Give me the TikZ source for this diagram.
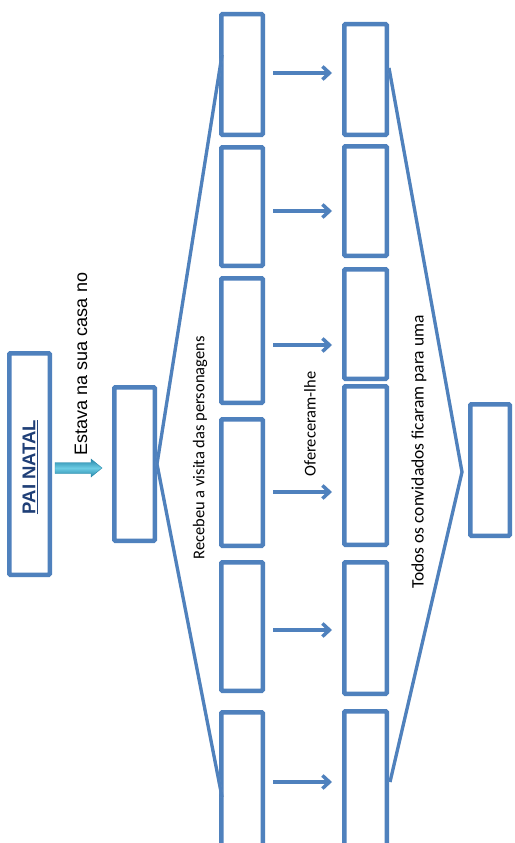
\documentclass[tikz,border=0pt]{standalone}
\usepackage{fontspec}
\setmainfont{Carlito}
\newfontfamily\arialfont{Liberation Sans}
\usetikzlibrary{arrows.meta,calc}
\definecolor{boxblue}{RGB}{79,129,189}
\definecolor{navyblue}{RGB}{31,63,119}
\definecolor{tealdark}{RGB}{38,135,170}
\definecolor{teallight}{RGB}{110,205,228}
\begin{document}
\begin{tikzpicture}[x=1pt,y=-1pt,
  slot/.style={draw=boxblue, line width=4.5pt, inner sep=0pt, rounded corners=1pt},
  conn/.style={draw=boxblue, line width=3.5pt, shorten >=10pt, -{Straight Barb[length=7pt,width=13pt]}},
  fan/.style={draw=boxblue, line width=3.3pt, line join=miter},
  fanshadow/.style={draw=black!25, line width=3pt, opacity=0.45, line join=miter},
  lbl/.style={inner sep=0pt, rotate=90, text=black},
  calib/.style={font=\fontsize{16.5}{18}\selectfont}
]
\useasboundingbox (0,0) rectangle (514,843);
\fill[white] (0,0) rectangle (514,843);
\clip (0,0) rectangle (514,843);

% left boxes
\node[slot, minimum width=40.5pt, minimum height=221.5pt] (pn) at (29.5,464) {};
\node[lbl, text=navyblue, font=\arialfont\bfseries\fontsize{18.5}{20}\selectfont] (pnt) at (30,467) {\underline{PAI NATAL}};
\node[slot, minimum width=40.5pt, minimum height=153.5pt] (b2) at (134.5,464) {};

% column 1
\node[slot, minimum width=41.5pt, minimum height=120.5pt] (c1a) at (242,74.5) {};
\node[slot, minimum width=41.5pt, minimum height=118.5pt] (c1b) at (242,206.5) {};
\node[slot, minimum width=41.5pt, minimum height=124.5pt] (c1c) at (242,340.5) {};
\node[slot, minimum width=41.5pt, minimum height=126.5pt] (c1d) at (242,482.5) {};
\node[slot, minimum width=41.5pt, minimum height=128.5pt] (c1e) at (242,626.5) {};
\node[slot, minimum width=41.5pt, minimum height=135.5pt] (c1f) at (242,780) {};

% column 2
\node[slot, minimum width=42.5pt, minimum height=110.5pt] (c2a) at (365.5,79.5) {};
\node[slot, minimum width=42.5pt, minimum height=109.5pt] (c2b) at (365.5,201) {};
\node[slot, minimum width=42.5pt, minimum height=109.5pt] (c2c) at (365.5,324) {};
\node[slot, minimum width=42.5pt, minimum height=158.5pt] (c2d) at (365.5,465.5) {};
\node[slot, minimum width=42.5pt, minimum height=131.5pt] (c2e) at (365.5,628) {};
\node[slot, minimum width=42.5pt, minimum height=136.5pt] (c2f) at (365.5,779.5) {};

% final box
\node[slot, minimum width=39.5pt, minimum height=131.5pt] (fin) at (490,470) {};

% teal block arrow from PAI NATAL to the second box
\coordinate (ta) at (55,468);
\shade[top color=tealdark, bottom color=tealdark, middle color=teallight, draw=tealdark, line width=0.4pt]
  (ta) ++(0,-5.5) -- ++(36,0) -- ++(0,-3.5) -- ++(11,9) -- ++(-11,9) -- ++(0,-3.5) -- ++(-36,0) -- cycle;

% fan lines
\coordinate (lt) at (222,55);
\coordinate (lb) at (222,797);
\coordinate (rt) at (389,68);
\coordinate (rp) at (462,472);
\coordinate (rb) at (390,782);
\begin{scope}[shift={(2.5,1.5)}]
  \draw[fanshadow] (lt) -- (b2.east) -- (lb);
  \draw[fanshadow] (rt) -- (rp) -- (rb);
\end{scope}
\draw[fan] (lt) -- (b2.east) -- (lb);
\draw[fan] (rt) -- (rp) -- (rb);

% arrows between the columns
\coordinate (s1) at (273,73);
\coordinate (s2) at (273,211);
\coordinate (s3) at (273,345);
\coordinate (s4) at (273,492);
\coordinate (s5) at (273,630);
\coordinate (s6) at (273,782);
\draw[conn] (s1) -- (s1 -| c2a.west);
\draw[conn] (s2) -- (s2 -| c2b.west);
\draw[conn] (s3) -- (s3 -| c2c.west);
\draw[conn] (s4) -- (s4 -| c2d.west);
\draw[conn] (s5) -- (s5 -| c2e.west);
\draw[conn] (s6) -- (s6 -| c2f.west);

% labels
\node[lbl, font=\arialfont\fontsize{18}{20}\selectfont] (t1) at (81,364) {Estava na sua casa no};
\node[lbl, calib] (t2) at (200,448) {Recebeu a visita das personagens};
\node[lbl, calib] (t3) at (310,424) {Ofereceram-lhe};
\node[lbl, font=\fontsize{17.5}{19}\selectfont] (t4) at (419,452) {Todos os convidados ficaram para uma};
\end{tikzpicture}
\end{document}
